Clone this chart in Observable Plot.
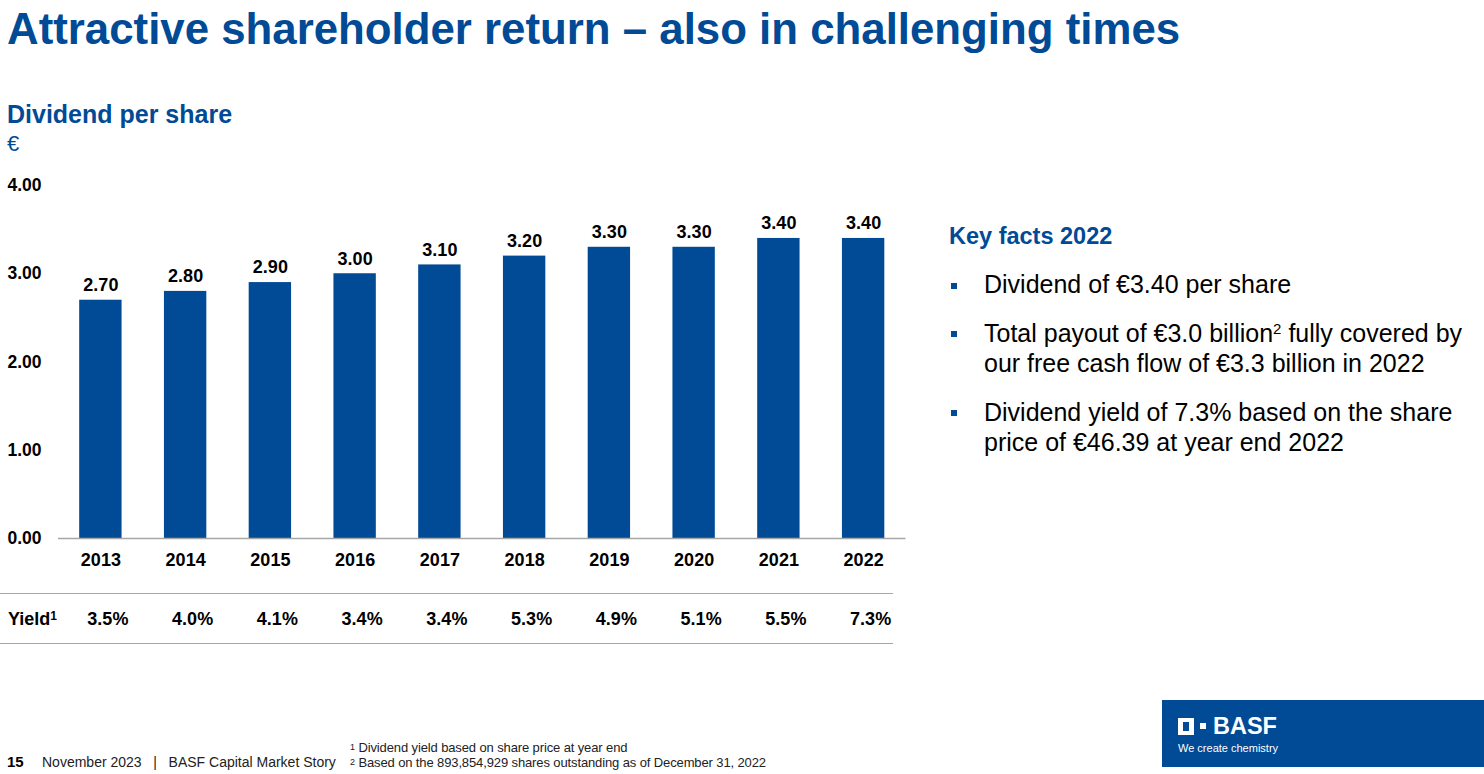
<!DOCTYPE html>
<html>
<head>
<meta charset="utf-8">
<script src="https://cdn.jsdelivr.net/npm/d3@7"></script>
<script src="https://cdn.jsdelivr.net/npm/@observablehq/plot@0.6"></script>
<style>
  html, body { margin: 0; padding: 0; background: #fff; }
  body { width: 1484px; height: 774px; position: relative; overflow: hidden;
         font-family: "Liberation Sans", Arial, sans-serif; color: #000; }
  .abs { position: absolute; white-space: nowrap; }
  .blue { color: #004a96; }
  .hr { position: absolute; height: 1px; background: #a6a6a6; }
  .bullet { position: absolute; width: 6px; height: 6px; background: #004a96; }
  .fact { position: absolute; left: 984px; font-size: 25px; line-height: 29.5px; white-space: nowrap; }
</style>
</head>
<body>
<div class="abs blue" style="left:7px; top:7px; font-size:43.8px; line-height:43px; font-weight:bold;">Attractive shareholder return – also in challenging times</div>
<div class="abs blue" style="left:7px; top:102px; font-size:25px; line-height:24px; font-weight:bold;">Dividend per share</div>
<div class="abs blue" style="left:7px; top:133px; font-size:22px; line-height:22px;">€</div>

<div id="chart" style="position:absolute; left:0; top:170px;"></div>

<div class="hr" style="left:0; top:593px; width:893px;"></div>
<div class="hr" style="left:0; top:643px; width:893px;"></div>
<div class="abs" style="left:8px; top:610px; font-size:18px; line-height:18px; font-weight:bold;">Yield<sup style="font-size:12px; vertical-align:top; position:relative; top:-3px;">1</sup></div>

<div class="abs blue" style="left:949px; top:224px; font-size:23.5px; line-height:24px; font-weight:bold;">Key facts 2022</div>
<div class="bullet" style="left:951px; top:283px;"></div>
<div class="fact" style="top:270px;">Dividend of €3.40 per share</div>
<div class="bullet" style="left:951px; top:331px;"></div>
<div class="fact" style="top:319px;">Total payout of €3.0 billion<sup style="font-size:15px; vertical-align:top; position:relative; top:-5px;">2</sup> fully covered by<br>our free cash flow of €3.3 billion in 2022</div>
<div class="bullet" style="left:951px; top:410px;"></div>
<div class="fact" style="top:398px;">Dividend yield of 7.3% based on the share<br>price of €46.39 at year end 2022</div>

<div class="abs" style="left:7px; top:754px; font-size:15px; line-height:16px; font-weight:bold;">15</div>
<div class="abs" style="left:42px; top:755px; font-size:14px; line-height:14px; color:#222;">November 2023&nbsp;&nbsp;&nbsp;|&nbsp;&nbsp;&nbsp;BASF Capital Market Story</div>
<div class="abs" style="left:350px; top:740px; font-size:13px; line-height:15px; letter-spacing:-0.12px; color:#222;"><sup style="font-size:9px; vertical-align:top;">1</sup> Dividend yield based on share price at year end<br><sup style="font-size:9px; vertical-align:top;">2</sup> Based on the 893,854,929 shares outstanding as of December 31, 2022</div>

<div style="position:absolute; left:1162px; top:700px; width:322px; height:67px; background:#004a96;"></div>
<div style="position:absolute; left:1178px; top:718px; width:6px; height:9px; border-style:solid; border-color:#fff; border-width:4px 5px; background:#004a96;"></div>
<div style="position:absolute; left:1200px; top:723px; width:6px; height:6px; background:#fff;"></div>
<div class="abs" style="left:1213px; top:715px; font-size:23.5px; line-height:23px; font-weight:bold; color:#fff;">BASF</div>
<div class="abs" style="left:1178px; top:742px; font-size:11px; line-height:12px; color:#fff;">We create chemistry</div>

<script>
const years = ["2013","2014","2015","2016","2017","2018","2019","2020","2021","2022"];
const dividends = [2.70, 2.80, 2.90, 3.00, 3.10, 3.20, 3.30, 3.30, 3.40, 3.40];
const yieldLabels = ["3.5%","4.0%","4.1%","3.4%","3.4%","5.3%","4.9%","5.1%","5.5%","7.3%"];
const yTicks = [0, 1, 2, 3, 4];

const data = years.map((year, i) => ({year, dividend: dividends[i], yieldLabel: yieldLabels[i]}));
const blue = "#004a96";
const font = "'Liberation Sans', Arial, sans-serif";

const chart = Plot.plot({
  width: 920,
  height: 480,
  marginTop: 15,
  marginBottom: 112,
  marginLeft: 58,
  marginRight: 14.5,
  style: {fontFamily: font, fontSize: "18px", fontWeight: "bold", color: "#000", background: "transparent", overflow: "visible"},
  x: {domain: years, paddingInner: 0.5, paddingOuter: 0.25, round: false, axis: null, label: null},
  y: {domain: [0, 4], axis: null, label: null},
  marks: [
    Plot.barY(data, {x: "year", y: "dividend", fill: blue}),
    Plot.ruleY([0], {stroke: "#a6a6a6", strokeWidth: 1.5}),
    Plot.axisY({ticks: yTicks, tickFormat: d => d.toFixed(2), tickSize: 0, tickPadding: 0,
                textAnchor: "start", dx: -51, fontSize: 17.5, fontWeight: "bold", fill: "#000", label: null}),
    Plot.axisX({tickSize: 0, tickPadding: 15, fontSize: 18, fontWeight: "bold", fill: "#000", label: null}),
    Plot.text(data, {x: "year", y: "dividend", text: d => d.dividend.toFixed(2), dy: -15,
                     lineAnchor: "middle", fontSize: 18, fontWeight: "bold", fill: "#000"}),
    Plot.text(data, {x: "year", text: "yieldLabel", frameAnchor: "bottom", dy: 81, dx: 7,
                     lineAnchor: "middle", fontSize: 18, fontWeight: "bold", fill: "#000"})
  ]
});
document.getElementById("chart").appendChild(chart);
</script>
</body>
</html>
